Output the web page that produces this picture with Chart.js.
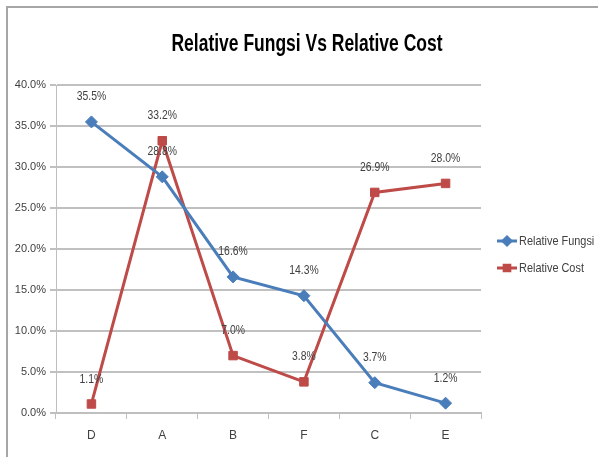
<!DOCTYPE html>
<html>
<head>
<meta charset="utf-8">
<script src="https://cdn.jsdelivr.net/npm/chart.js@4/dist/chart.umd.min.js"></script>
<style>
  html, body { margin: 0; padding: 0; background: #fff; overflow: hidden; }
  #wrap { position: relative; width: 598px; height: 457px; }
  #frame { position: absolute; left: 6px; top: 6px; width: 600px; height: 460px; border: 2px solid #a6a6a6; }
  canvas { position: absolute; left: 0; top: 0; }
</style>
</head>
<body>
<div id="wrap">
  <div id="frame"></div>
  <canvas id="chart" width="598" height="457"></canvas>
</div>
<script>
// Data
const categories = ["D", "A", "B", "F", "C", "E"];
const relativeFungsi = [35.5, 28.8, 16.6, 14.3, 3.7, 1.2];
const relativeCost = [1.1, 33.2, 7.0, 3.8, 26.9, 28.0];
const seriesNames = ["Relative Fungsi", "Relative Cost"];
const chartTitle = "Relative Fungsi Vs Relative Cost";

const FONT = "'Liberation Sans', sans-serif";
const BLUE = "#4a7ebb";
const RED = "#be4b48";
const TEXT = "#404040";

// text squeezed horizontally, to look like the narrow office font
function narrowText(c, text, x, y, sx) {
  c.save();
  c.translate(x, y);
  c.scale(sx, 1);
  c.fillText(text, 0, 0);
  c.restore();
}

// Title, value labels and legend drawn on top of the chart
const decorations = {
  id: "decorations",
  afterDatasetsDraw(chart) {
    const c = chart.ctx;
    c.save();
    // title
    c.fillStyle = "#000";
    c.font = "bold 23px " + FONT;
    c.textAlign = "center";
    c.textBaseline = "middle";
    narrowText(c, chartTitle, 307, 45, 0.76);

    // value labels above each point
    c.font = "13px " + FONT;
    c.fillStyle = TEXT;
    chart.data.datasets.forEach((ds, i) => {
      chart.getDatasetMeta(i).data.forEach((pt, j) => {
        narrowText(c, ds.data[j].toFixed(1) + "%", pt.x, pt.y - 25, 0.8);
      });
    });

    // legend: line + marker + name
    const items = [
      { name: seriesNames[0], color: BLUE, style: "rectRot" },
      { name: seriesNames[1], color: RED, style: "rect" },
    ];
    items.forEach((it, k) => {
      const y = 241 + k * 27;
      c.strokeStyle = it.color;
      c.lineWidth = 3;
      c.beginPath();
      c.moveTo(497, y);
      c.lineTo(517, y);
      c.stroke();
      c.fillStyle = it.color;
      Chart.helpers.drawPoint(c, { pointStyle: it.style, radius: 4, borderWidth: 1 }, 507, y);
      c.fillStyle = TEXT;
      c.textAlign = "left";
      c.font = "13px " + FONT;
      narrowText(c, it.name, 519, y, 0.84);
    });
    c.restore();
  },
};

new Chart(document.getElementById("chart"), {
  type: "line",
  data: {
    labels: categories,
    datasets: [
      {
        label: seriesNames[0],
        data: relativeFungsi,
        borderColor: BLUE,
        backgroundColor: BLUE,
        borderWidth: 3,
        pointStyle: "rectRot",
        pointRadius: 6,
        pointBorderWidth: 1,
        tension: 0,
      },
      {
        label: seriesNames[1],
        data: relativeCost,
        borderColor: RED,
        backgroundColor: RED,
        borderWidth: 3,
        pointStyle: "rect",
        pointRadius: 6,
        pointBorderWidth: 1,
        tension: 0,
      },
    ],
  },
  options: {
    responsive: false,
    animation: false,
    layout: { padding: { left: 0, top: 85, right: 117, bottom: 0 } },
    plugins: {
      legend: { display: false },
      title: { display: false },
      tooltip: { enabled: false },
    },
    scales: {
      x: {
        offset: true,
        grid: { display: true, drawOnChartArea: false, tickLength: 6, color: "#bfbfbf", offset: true },
        border: { color: "#bfbfbf", width: 2 },
        ticks: { color: TEXT, font: { family: FONT, size: 12 }, padding: 9 },
        afterFit(scale) { scale.height = 44; },
      },
      y: {
        min: 0,
        max: 40,
        ticks: {
          stepSize: 5,
          color: TEXT,
          font: { family: FONT, size: 11 },
          padding: 4,
          callback: (v) => v.toFixed(1) + "%",
        },
        grid: { color: "#c0c0c0", lineWidth: 2, tickLength: 6 },
        border: { color: "#bfbfbf", width: 1 },
        afterFit(scale) { scale.width = 56; },
      },
    },
  },
  plugins: [decorations],
});
</script>
</body>
</html>
